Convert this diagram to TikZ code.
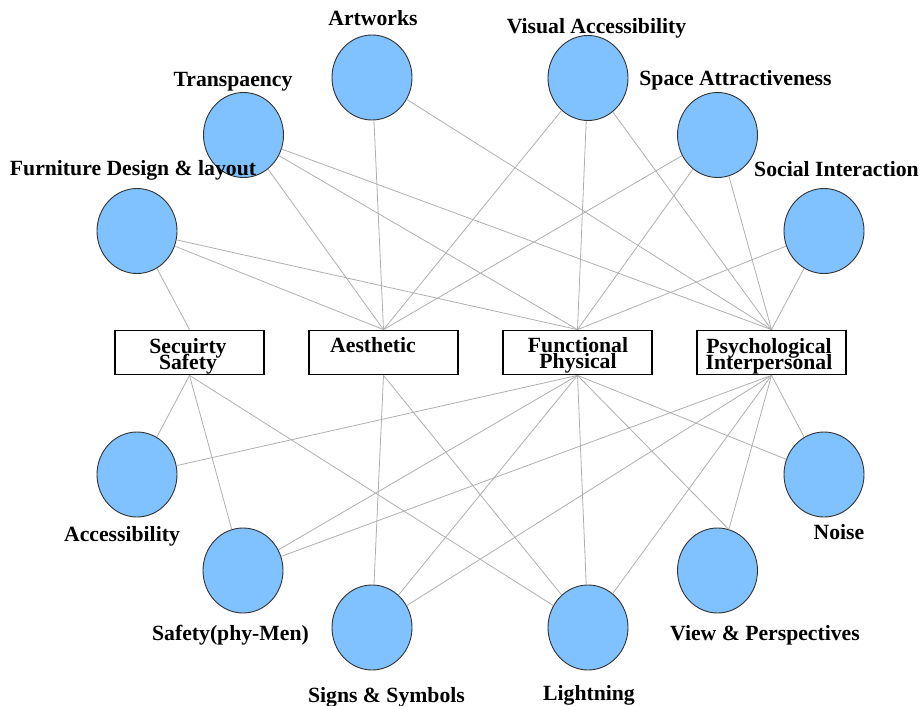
\documentclass[tikz,border=0pt]{standalone}
\usepackage{fontspec}
\setmainfont{Liberation Serif}
\usetikzlibrary{shapes.geometric}
\definecolor{circfill}{RGB}{128,194,255}
\definecolor{edgegray}{RGB}{175,175,175}
\definecolor{circline}{RGB}{50,50,50}
\newcommand\tightlines{\lineskiplimit=-30pt\relax\lineskip=0pt\relax}
\tikzset{
  circ/.style={ellipse, draw=circline, line width=0.9pt, fill=circfill, minimum width=80pt, minimum height=85pt, inner sep=0pt},
  catbox/.style={rectangle, draw=black, line width=1.3pt, fill=white, minimum width=149pt, minimum height=44.5pt, inner sep=0pt},
  cattext/.style={anchor=north, inner sep=0pt, align=center, font=\bfseries\fontsize{21.7}{16}\selectfont\tightlines},
  lbl/.style={anchor=base, inner sep=0pt, font=\bfseries\fontsize{21.7}{26}\selectfont},
  edge/.style={draw=edgegray, line width=0.8pt}
}
\begin{document}
\begin{tikzpicture}[x=1pt,y=-1pt]
\useasboundingbox (0,0) rectangle (923,706);
% category boxes
\node[catbox] (sec) at (189.5,352.5) {};
\node[catbox] (aes) at (383.5,352.5) {};
\node[catbox] (fun) at (577.5,352.5) {};
\node[catbox] (psy) at (771.5,352.5) {};
% circles
\node[circ] (furn) at (137,231) {};
\node[circ] (trans) at (243.5,135) {};
\node[circ] (art) at (372,77.5) {};
\node[circ] (vis) at (588,78) {};
\node[circ] (space) at (717.5,135) {};
\node[circ] (social) at (824,231) {};
\node[circ] (acc) at (137,474.5) {};
\node[circ] (safe) at (243,570.5) {};
\node[circ] (signs) at (372,627.5) {};
\node[circ] (light) at (588,627.5) {};
\node[circ] (view) at (717.5,570.5) {};
\node[circ] (noise) at (824,474.5) {};
% edges
\path[edge] (furn) -- (sec.north);
\path[edge] (furn) -- (aes.north);
\path[edge] (furn) -- (fun.north);
\path[edge] (trans) -- (aes.north);
\path[edge] (trans) -- (fun.north);
\path[edge] (trans) -- (psy.north);
\path[edge] (art) -- (aes.north);
\path[edge] (art) -- (psy.north);
\path[edge] (vis) -- (aes.north);
\path[edge] (vis) -- (fun.north);
\path[edge] (vis) -- (psy.north);
\path[edge] (space) -- (aes.north);
\path[edge] (space) -- (fun.north);
\path[edge] (space) -- (psy.north);
\path[edge] (social) -- (fun.north);
\path[edge] (social) -- (psy.north);
\path[edge] (sec.south) -- (acc);
\path[edge] (sec.south) -- (safe);
\path[edge] (sec.south) -- (light);
\path[edge] (aes.south) -- (signs);
\path[edge] (aes.south) -- (light);
\path[edge] (fun.south) -- (acc);
\path[edge] (fun.south) -- (safe);
\path[edge] (fun.south) -- (signs);
\path[edge] (fun.south) -- (light);
\path[edge] (fun.south) -- (view.75);
\path[edge] (fun.south) -- (noise);
\path[edge] (psy.south) -- (safe);
\path[edge] (psy.south) -- (signs);
\path[edge] (psy.south) -- (light);
\path[edge] (psy.south) -- (view);
\path[edge] (psy.south) -- (noise);
% box texts
\node[cattext] (tsec) at (188,338) {Secuirty\\Safety};
\node[cattext] (taes) at (373,337) {Aesthetic};
\node[cattext] (tfun) at (578,337) {Functional\\Physical};
\node[cattext] (tpsy) at (769,338) {Psychological\\Interpersonal};
% labels
\node[lbl] (lart) at (373,26) {Artworks};
\node[lbl] (ltrans) at (233,87) {Transpaency};
\node[lbl] (lfurn) at (133,175.5) {Furniture Design \& layout};
\node[lbl] (lvis) at (596.5,34) {Visual Accessibility};
\node[lbl] (lspace) at (735.5,86) {Space Attractiveness};
\node[lbl] (lsocial) at (836.5,176) {Social Interaction};
\node[lbl] (lacc) at (122,541.5) {Accessibility};
\node[lbl] (lsafe) at (230.5,640.5) {Safety(phy-Men)};
\node[lbl] (lsigns) at (386.5,702) {Signs \& Symbols};
\node[lbl] (llight) at (589,700.5) {Lightning};
\node[lbl] (lview) at (765,640.5) {View \& Perspectives};
\node[lbl] (lnoise) at (839,539.5) {Noise};
\end{tikzpicture}
\end{document}
